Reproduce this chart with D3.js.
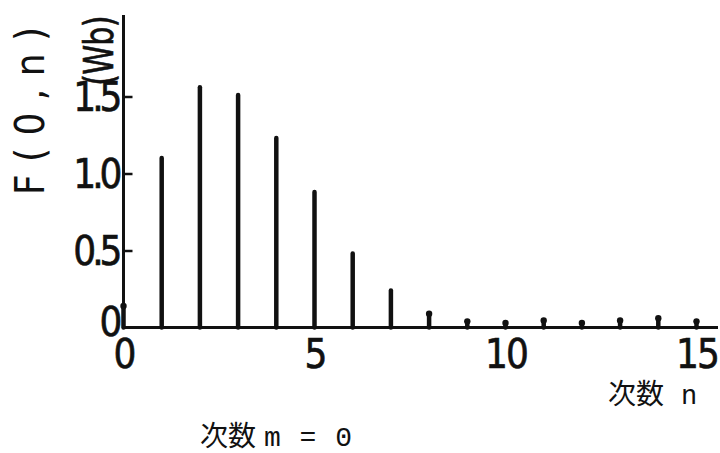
<!DOCTYPE html>
<html>
<head>
<meta charset="utf-8">
<script src="https://cdn.jsdelivr.net/npm/d3@7"></script>
<style>
  body { margin: 0; background: #fff; }
  svg { display: block; }
  .num { font-family: "Liberation Sans Narrow", "DejaVu Sans Condensed", "Liberation Sans", sans-serif; font-stretch: condensed; }
  .cjk { font-family: "Noto Sans CJK JP", sans-serif; }
  .mono { font-family: "Liberation Mono", "DejaVu Sans Mono", monospace; }
</style>
</head>
<body>
<script>
const w = 720;
const h = 453;
const margin = { top: 19, left: 123.5, right: 23.5, bottom: 125 };

// F(0,n) for each order n (m = 0)
const orders = [0, 1, 2, 3, 4, 5, 6, 7, 8, 9, 10, 11, 12, 13, 14, 15];
const flux = [0.14, 1.10, 1.56, 1.51, 1.23, 0.88, 0.48, 0.24, 0.09, 0.04, 0.03, 0.045, 0.03, 0.045, 0.06, 0.04];
const xTicks = [0, 5, 10, 15];
const yTicks = [0, 0.5, 1.0, 1.5];
const yLabels = ['0', '0.5', '1.0', '1.5'];

const data = orders.map((n, i) => ({ n: n, v: flux[i] }));

const svg = d3.select('body').append('svg')
  .attr('width', w)
  .attr('height', h);

const xScale = d3.scaleLinear().domain([0, 15]).range([margin.left, 696.5]);
const yScale = d3.scaleLinear().domain([0, 2]).range([327.5, 19.5]);

// axis lines
svg.append('line')
  .attr('x1', xScale(0)).attr('x2', 718)
  .attr('y1', yScale(0)).attr('y2', yScale(0))
  .attr('stroke', '#111').attr('stroke-width', 3);
svg.append('line')
  .attr('x1', xScale(0)).attr('x2', xScale(0))
  .attr('y1', yScale(0) + 1.5).attr('y2', yScale(2.03))
  .attr('stroke', '#111').attr('stroke-width', 3);

const yAxis = d3.axisLeft(yScale)
  .tickValues(yTicks)
  .tickSizeInner(-9)
  .tickSizeOuter(0)
  .tickPadding(5)
  .tickFormat((d, i) => yLabels[i]);

const gy = svg.append('g')
  .attr('transform', `translate(${xScale(0)}, 0)`)
  .call(yAxis);
gy.select('.domain').remove();
gy.selectAll('.tick line').attr('stroke', '#111').attr('stroke-width', 2.5)
  .filter(d => d === 0).remove();
gy.selectAll('.tick text')
  .attr('class', 'num')
  .attr('fill', '#111')
  .attr('stroke', '#111')
  .attr('stroke-width', 0.6)
  .attr('font-size', 40)
  .attr('letter-spacing', -4)
  .attr('dy', '0.34em');
gy.selectAll('.tick').filter(d => d === 0).select('text').attr('dy', '0.2em');

const xAxis = d3.axisBottom(xScale)
  .tickValues(xTicks)
  .tickSize(0)
  .tickPadding(12)
  .tickFormat(d3.format('d'));

const gx = svg.append('g')
  .attr('transform', `translate(0, ${yScale(0)})`)
  .call(xAxis);
gx.select('.domain').remove();
gx.selectAll('.tick text')
  .attr('class', 'num')
  .attr('fill', '#111')
  .attr('stroke', '#111')
  .attr('stroke-width', 0.6)
  .attr('font-size', 40)
  .attr('letter-spacing', -2);

// stems
svg.selectAll('.stem')
  .data(data)
  .enter()
  .append('line')
  .attr('class', 'stem')
  .attr('x1', d => xScale(d.n))
  .attr('x2', d => xScale(d.n))
  .attr('y1', yScale(0))
  .attr('y2', d => yScale(d.v))
  .attr('stroke', '#111')
  .attr('stroke-width', 4.5)
  .attr('stroke-linecap', 'round');

svg.selectAll('.tip')
  .data(data.filter(d => d.n === 0 || d.n >= 8))
  .enter()
  .append('circle')
  .attr('class', 'tip')
  .attr('cx', d => xScale(d.n))
  .attr('cy', d => yScale(d.v))
  .attr('r', 3.2)
  .attr('fill', '#111');

// y title
svg.append('text')
  .attr('class', 'num')
  .attr('transform', 'translate(44, 111) rotate(-90)')
  .attr('text-anchor', 'middle')
  .attr('font-size', 40)
  .attr('textLength', 168)
  .attr('lengthAdjust', 'spacing')
  .attr('fill', '#111')
  .text('F(0,n)');

svg.append('text')
  .attr('class', 'num')
  .attr('transform', 'translate(113, 51) rotate(-90) scale(0.84, 1)')
  .attr('text-anchor', 'middle')
  .attr('font-size', 40)
  .attr('letter-spacing', -1)
  .attr('fill', '#111')
  .attr('stroke', '#111')
  .attr('stroke-width', 0.6)
  .text('(Wb)');

// x title
const xt = svg.append('text')
  .attr('x', 608)
  .attr('y', 404)
  .attr('fill', '#111');
xt.append('tspan').attr('class', 'cjk').attr('font-size', 28).text('次数');
xt.append('tspan').attr('class', 'mono').attr('font-size', 27).attr('dx', 17).text('n');

const mt = svg.append('text')
  .attr('x', 200)
  .attr('y', 446)
  .attr('fill', '#111');
mt.append('tspan').attr('class', 'cjk').attr('font-size', 28).text('次数');
mt.append('tspan').attr('class', 'mono').attr('font-size', 28).attr('dx', 8).attr('letter-spacing', 1).text('m = 0');
</script>
</body>
</html>
